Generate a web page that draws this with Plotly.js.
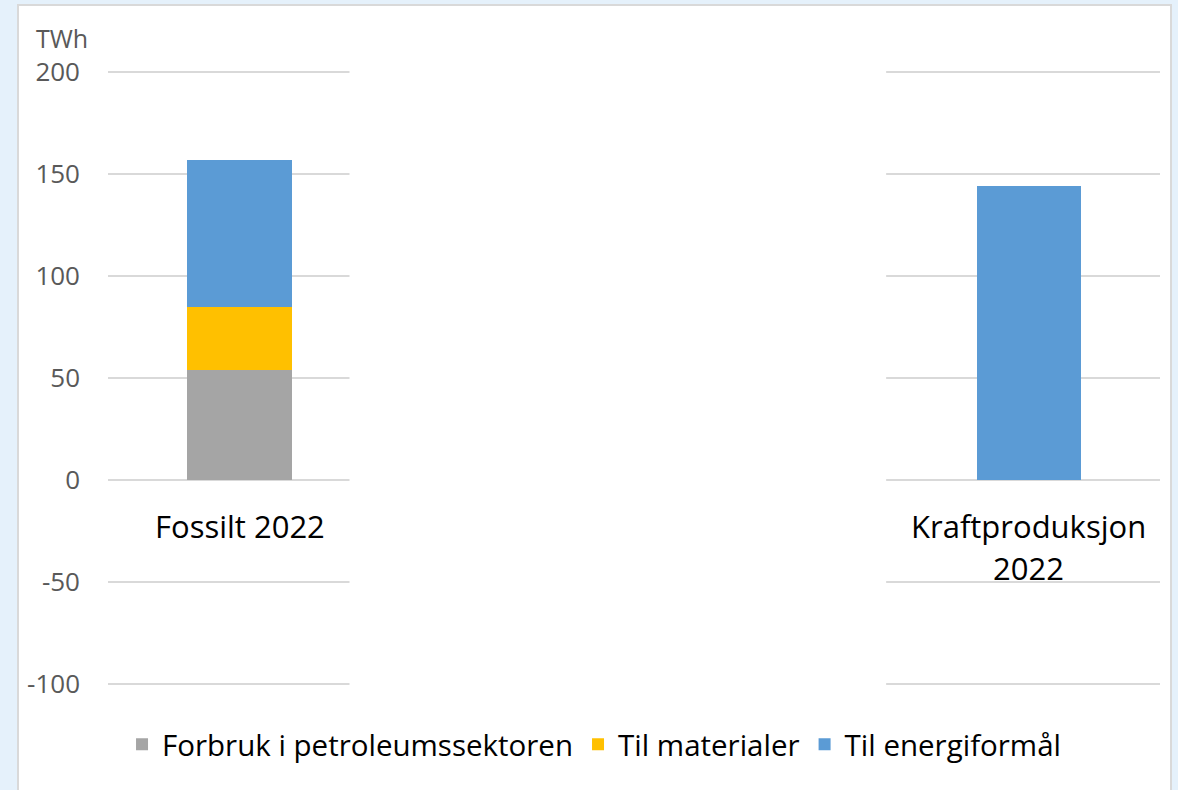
<!DOCTYPE html>
<html>
<head>
<meta charset="utf-8">
<script src="https://cdn.plot.ly/plotly-3.0.1.min.js"></script>
<style>
  body { margin: 0; background: #e5f1fb; overflow: hidden; }
  #chart { position: absolute; left: 17px; top: 4px; width: 1151px; height: 800px;
           border: 2px solid #d9d9d9; background: #fff; }
</style>
</head>
<body>
<div id="chart"></div>
<script>
// categories and values (TWh)
var categories = ["Fossilt 2022", "Kraftproduksjon<br>2022"]
var petroleum = [54, 0]
var materials = [31, 0]
var energy = [72, 144]
var seriesNames = ["Forbruk i petroleumssektoren", "Til materialer", "Til energiformål"]
var seriesColors = ["#a5a5a5", "#ffc000", "#5b9bd5"]
var yTicks = [-100, -50, 0, 50, 100, 150, 200]

var font = "Open Sans, Liberation Sans, sans-serif"
var barWidth = 0.133

var values = [petroleum, materials, energy]
var data = []
for (let i = 0; i < values.length; i++) {
    data.push({
        type: "bar",
        x: categories,
        y: values[i],
        name: seriesNames[i],
        width: barWidth,
        marker: {color: seriesColors[i], line: {width: 0}},
        hoverinfo: "x+y+name"
    })
}

// category labels sit just under the zero line, one annotation per line
var annotations = [{
    xref: "paper", yref: "paper", x: -0.07, y: 1.052,
    xanchor: "left", yanchor: "middle", showarrow: false,
    text: "TWh", font: {family: font, size: 25, color: "#595959"}
}]
for (let i = 0; i < categories.length; i++) {
    let lines = categories[i].split("<br>")
    for (let j = 0; j < lines.length; j++) {
        annotations.push({
            x: categories[i], y: 0, xref: "x", yref: "y",
            yanchor: "middle", xanchor: "center", showarrow: false,
            yshift: -46 - 42 * j,
            text: lines[j], font: {family: font, size: 31, color: "#000"}
        })
    }
}

var layout = {
    width: 1151,
    height: 800,
    margin: {l: 89, r: 10, t: 64, b: 120},
    paper_bgcolor: "#fff",
    plot_bgcolor: "#fff",
    barmode: "stack",
    showlegend: true,
    legend: {
        orientation: "h", x: 0.462, xanchor: "center", y: -0.095, yanchor: "middle",
        font: {family: font, size: 29.5, color: "#000"},
        traceorder: "normal", itemwidth: 30
    },
    xaxis: {
        type: "category",
        range: [-0.167, 1.166],
        showticklabels: false,
        showgrid: false, zeroline: false, showline: false, ticks: ""
    },
    yaxis: {
        range: [-101, 201],
        tickvals: yTicks,
        ticktext: yTicks.map(String),
        showgrid: true, gridcolor: "#d9d9d9", gridwidth: 2,
        zeroline: true, zerolinecolor: "#d9d9d9", zerolinewidth: 2,
        showline: false, ticks: "",
        ticklabelstandoff: 27,
        tickfont: {family: font, size: 26, color: "#595959"}
    },
    // blank band in the middle of the plot, where the gridlines stop
    shapes: [{
        type: "rect", xref: "x", yref: "paper",
        x0: 0.139, x1: 0.819, y0: -0.01, y1: 1.01,
        fillcolor: "#fff", line: {width: 0}, layer: "above"
    }],
    annotations: annotations
}

Plotly.newPlot("chart", data, layout, {displayModeBar: false, staticPlot: true})
</script>
</body>
</html>
